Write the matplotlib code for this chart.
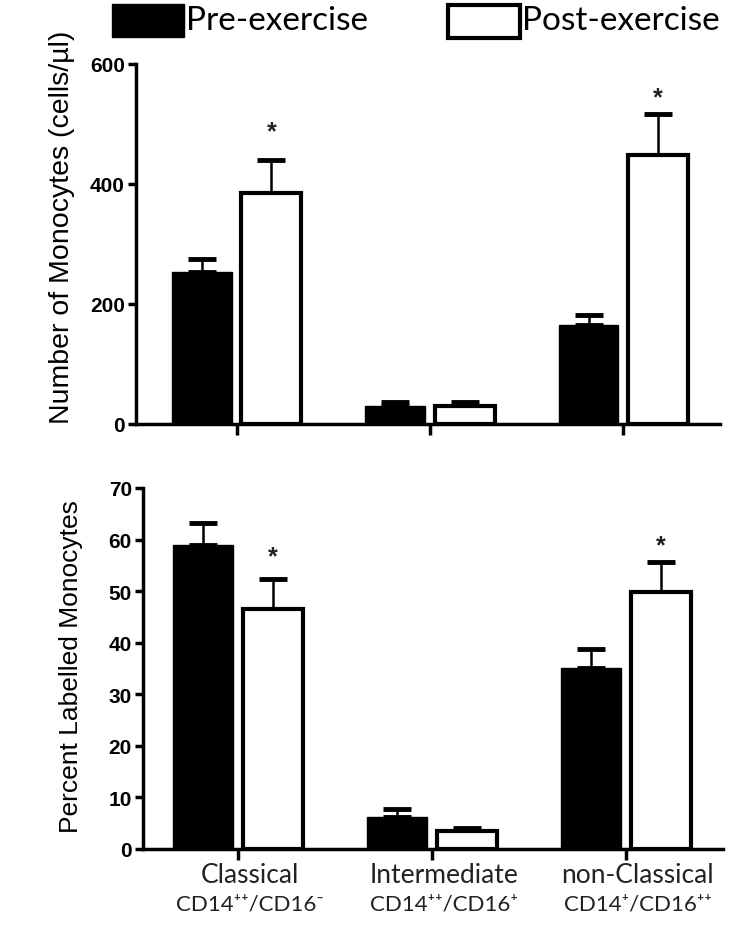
import numpy as np
import matplotlib.pyplot as plt
from matplotlib.patches import Rectangle

# Monocyte subsets
groups = ['Classical', 'Intermediate', 'non-Classical']
markers = ['CD14⁺⁺/CD16⁻', 'CD14⁺⁺/CD16⁺', 'CD14⁺/CD16⁺⁺']

# Top panel: number of monocytes (cells/ul)
count_pre = [253, 30, 165]
count_pre_err = [22, 7, 17]
count_post = [385, 30, 448]
count_post_err = [55, 6, 69]
count_star = [488, None, 545]

# Bottom panel: percent labelled monocytes
pct_pre = [58.9, 6.2, 35.1]
pct_pre_err = [4.3, 1.6, 3.7]
pct_post = [46.5, 3.5, 49.8]
pct_post_err = [5.8, 0.6, 5.8]
pct_star = [56.8, None, 58.8]

plt.rcParams['font.family'] = ['Liberation Sans', 'DejaVu Sans']
calibri_like = ['Lato', 'DejaVu Sans']

fig = plt.figure(figsize=(7.33, 9.28), dpi=100)
ax1 = fig.add_axes([136 / 733, 1 - 425 / 928, 584 / 733, 360 / 928])
ax2 = fig.add_axes([143 / 733, 1 - 850 / 928, 580 / 733, 361 / 928])

x = np.arange(len(groups))
w = 0.31
off = 0.18


def draw_panel(ax, pre, pre_err, post, post_err, stars, ymax, step, ylabel, lsize):
    zeros = [0] * len(x)
    ax.errorbar(x - off, pre, yerr=[zeros, pre_err], fmt='none', ecolor='black',
                elinewidth=1.8, capsize=10, capthick=3.5, zorder=1)
    ax.errorbar(x + off, post, yerr=[zeros, post_err], fmt='none', ecolor='black',
                elinewidth=1.8, capsize=10, capthick=3.5, zorder=1)
    ax.bar(x - off, pre, w, color='black', edgecolor='black', linewidth=1, zorder=2)
    ax.bar(x + off, post, w, color='white', edgecolor='black', linewidth=3, zorder=2)
    for i, s in enumerate(stars):
        if s is not None:
            ax.text(x[i] + off, s, '*', ha='center', va='center', fontsize=18,
                    fontweight='bold', color='#222222')
    ax.set_xlim(-0.52, 2.5)
    ax.set_ylim(0, ymax)
    ax.set_yticks(np.arange(0, ymax + 1, step))
    ax.set_xticks(x)
    for side in ['top', 'right']:
        ax.spines[side].set_visible(False)
    for side in ['left', 'bottom']:
        ax.spines[side].set_linewidth(2.5)
    ax.tick_params(axis='y', length=6, width=2.5, labelsize=15, pad=2)
    ax.tick_params(axis='x', length=8, width=2.5)
    for lab in ax.get_yticklabels():
        lab.set_fontweight('bold')
    ax.set_ylabel(ylabel, fontsize=lsize)


draw_panel(ax1, count_pre, count_pre_err, count_post, count_post_err, count_star,
           600, 200, 'Number of Monocytes (cells/µl)', 20.5)
ax1.set_xticklabels([])
ax1.yaxis.set_label_coords(-0.104, 0.55)

draw_panel(ax2, pct_pre, pct_pre_err, pct_post, pct_post_err, pct_star,
           70, 10, 'Percent Labelled Monocytes', 19)
ax2.set_xlim(-0.49, 2.5)
ax2.set_xticklabels([])
ax2.yaxis.set_label_coords(-0.103, 0.507)
for i in range(len(groups)):
    ax2.text(x[i] + 0.06, -4.9, groups[i], ha='center', va='center',
             fontsize=19, family=calibri_like, color='#222222')
    ax2.text(x[i] + 0.06, -10.6, markers[i], ha='center', va='center',
             fontsize=16, family=calibri_like, color='#222222')

# Legend drawn at the top of the figure
fig.patches.append(Rectangle((112 / 733, 1 - 38 / 928), 72 / 733, 33 / 928,
                             transform=fig.transFigure, facecolor='black',
                             edgecolor='black'))
fig.patches.append(Rectangle((448 / 733, 1 - 39 / 928), 72 / 733, 33 / 928,
                             transform=fig.transFigure, facecolor='white',
                             edgecolor='black', linewidth=3))
fig.text(186 / 733, 1 - 21 / 928, 'Pre-exercise', ha='left', va='center',
         fontsize=24, family=calibri_like)
fig.text(522 / 733, 1 - 21 / 928, 'Post-exercise', ha='left', va='center',
         fontsize=24, family=calibri_like)

fig.savefig('out.png', dpi=100)
